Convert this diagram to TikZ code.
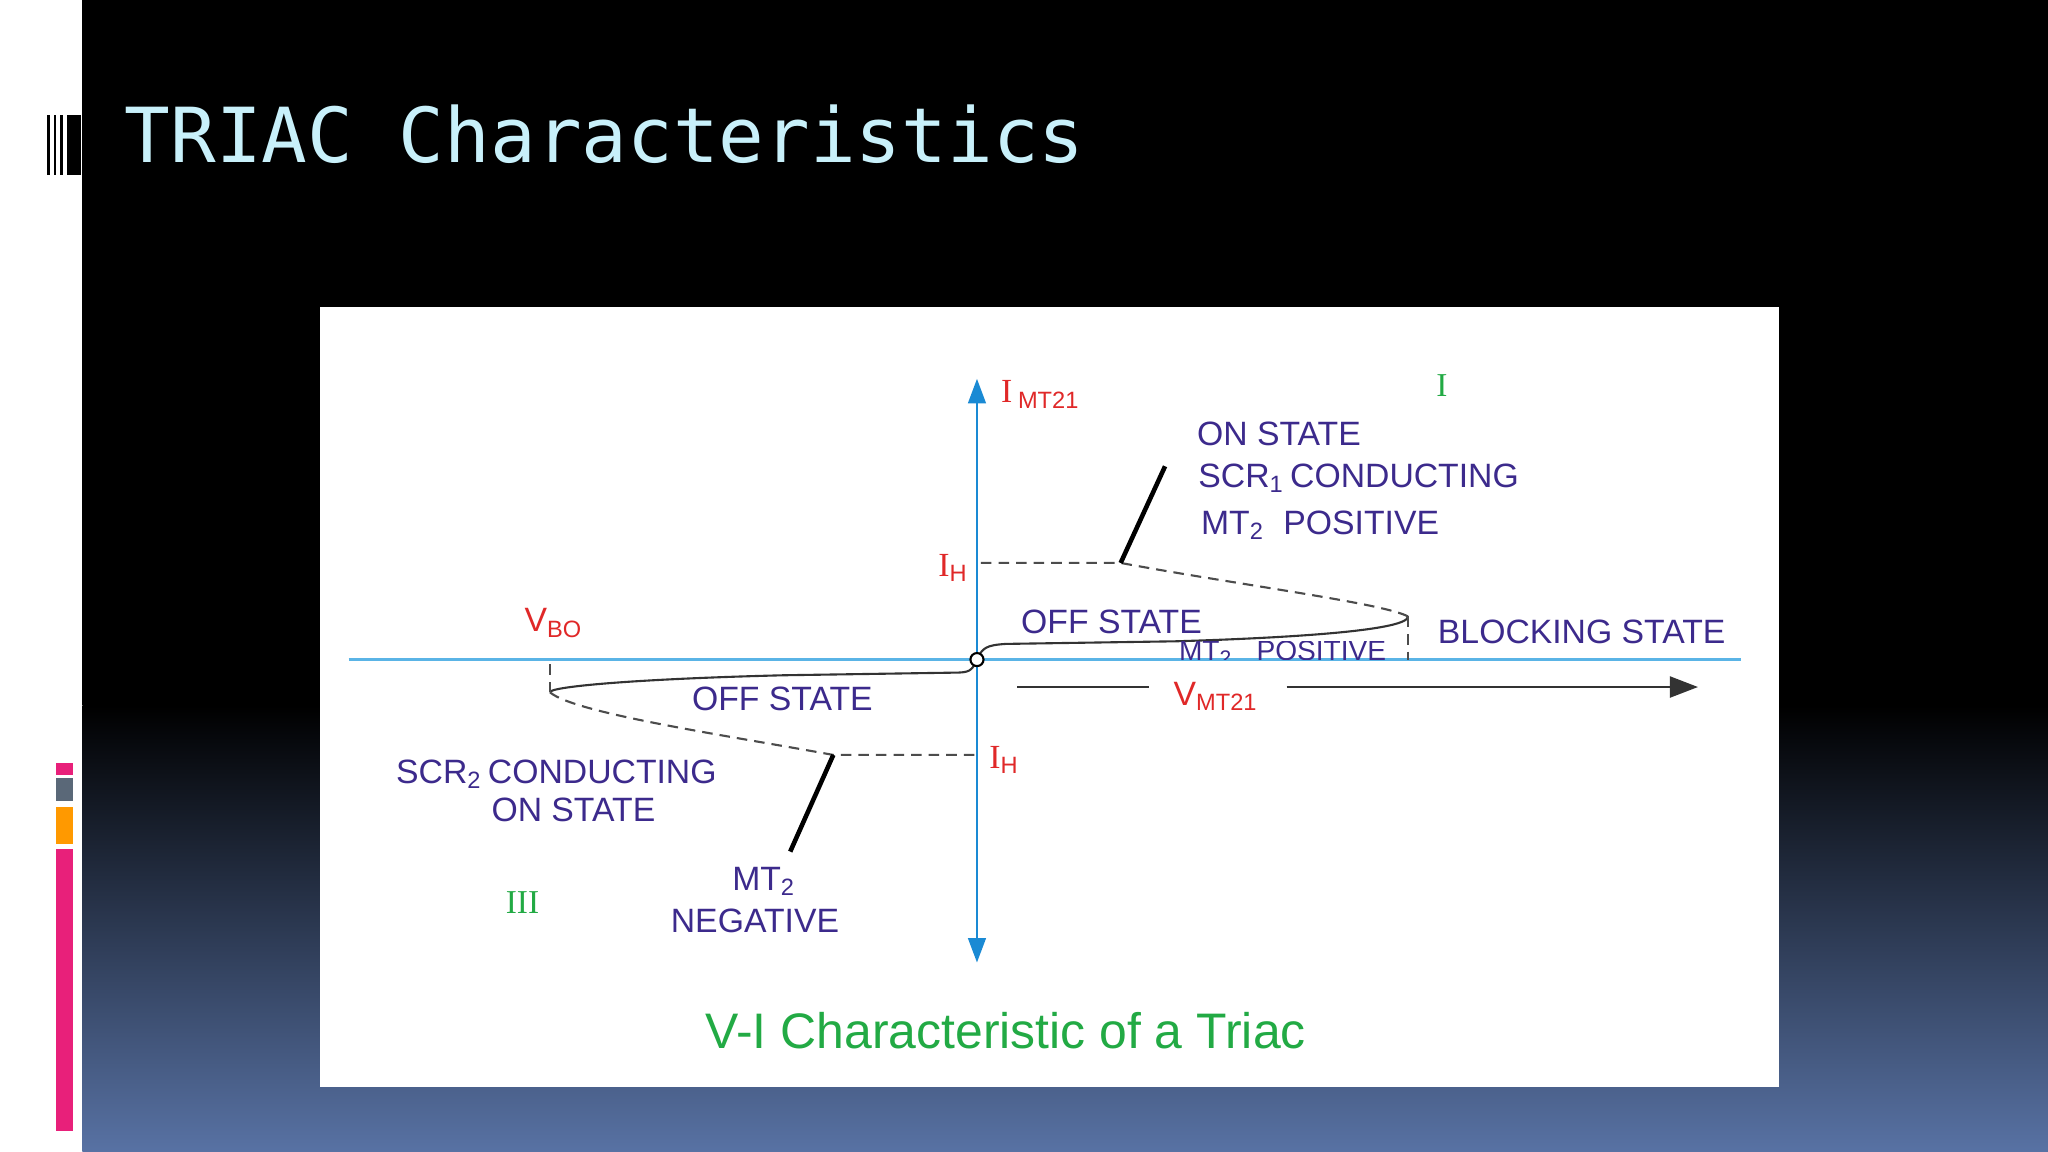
\documentclass[tikz,border=0pt]{standalone}
\usepackage{fontspec}
\setmainfont{Liberation Sans}
\newfontfamily\titlefont{DejaVu Sans Mono}
\newfontfamily\serfont{Liberation Serif}
\usetikzlibrary{arrows.meta}
\definecolor{purp}{HTML}{3C2A8C}
\definecolor{redt}{HTML}{E02828}
\definecolor{grn}{HTML}{22AA44}
\definecolor{axblue}{HTML}{5AB4E6}
\definecolor{arrblue}{HTML}{1A8AD4}
\definecolor{bgblue}{HTML}{5872A4}
\definecolor{pinkb}{HTML}{E8207A}
\definecolor{slate}{HTML}{5A6878}
\newcommand{\sbs}[1]{\textsubscript{#1}}
\begin{document}
\begin{tikzpicture}[x=0.013061cm,y=-0.013061cm,
  lbl/.style={text=purp,font=\fontsize{9.6}{10}\selectfont,inner sep=0pt},
  rlbl/.style={text=redt,font=\fontsize{9.6}{10}\selectfont,inner sep=0pt},
  glbl/.style={text=grn,font=\serfont\fontsize{9.5}{10}\selectfont,inner sep=0pt},
  curve/.style={draw=black!80,line width=0.6pt},
  dsh/.style={draw=black!70,line width=0.6pt,dash pattern=on 3pt off 2pt},
  leader/.style={draw=black,line width=1.3pt}]
\useasboundingbox (0,0) rectangle (1568,882);
\fill[white] (0,0) rectangle (63,882);
\fill[black] (63,0) rectangle (1568,540);
\shade[top color=black,bottom color=bgblue] (63,540) rectangle (1568,882);
% icon
\foreach \a/\b in {36/38,41/43,46/48,51/62}{\fill[black] (\a,88) rectangle (\b,134);}
% color bars
\fill[pinkb] (43,584) rectangle (56,593);
\fill[slate] (43,596) rectangle (56,613);
\fill[orange!80!yellow] (43,618) rectangle (56,646);
\fill[pinkb] (43,650) rectangle (56,866);
\node[anchor=west,text={rgb,255:red,200;green,240;blue,250},font=\titlefont\fontsize{21.6}{24}\selectfont,inner sep=0pt] (title) at (95,103) {TRIAC Characteristics};
% panel
\fill[white] (245,235) rectangle (1362,832);
% axes
\coordinate (hl) at (267,505); \coordinate (hr) at (1333,505);
\draw[axblue,line width=0.8pt] (hl) -- (hr);
\coordinate (vt) at (748,290); \coordinate (vb) at (748,737);
\draw[arrblue,line width=0.8pt,{Triangle[length=7pt,width=5pt]}-{Triangle[length=7pt,width=5pt]}] (vt) -- (vb);
% Q1 curve
\coordinate (o) at (748,505);
\coordinate (t1) at (1078,472);
\coordinate (h1) at (858,431);
\coordinate (ih1) at (748,431);
\draw[curve] (o) .. controls (752,496) and (755,494) .. (770,493) -- (900,491) .. controls (1000,488) and (1078,482) .. (t1);
\draw[dsh] (t1) .. controls (1060,462) and (950,448) .. (h1) -- (ih1);
\coordinate (t1b) at (1078,505);
\draw[dsh] (t1) -- (t1b);
\coordinate (l1) at (892,357);
\draw[leader] (h1) -- (l1);
% Q3 curve
\coordinate (t3) at (421,530);
\coordinate (h3) at (638,578);
\coordinate (ih3) at (748,578);
\draw[curve] (o) .. controls (744,514) and (742,515) .. (730,515) -- (600,517) .. controls (480,520) and (421,526) .. (t3);
\draw[dsh] (t3) .. controls (440,546) and (550,562) .. (h3) -- (ih3);
\coordinate (t3b) at (421,505);
\draw[dsh] (t3) -- (t3b);
\coordinate (l3) at (605,652);
\draw[leader] (h3) -- (l3);
\draw[fill=white,line width=0.6pt] (o) circle (5);
% V arrow
\coordinate (va) at (779,526); \coordinate (vb1) at (880,526);
\coordinate (vc) at (985,526); \coordinate (vd) at (1300,526);
\draw[black!80,line width=0.6pt] (va) -- (vb1);
\draw[black!80,line width=0.6pt,-{Triangle[length=8pt,width=6pt]}] (vc) -- (vd);
% labels
\node[rlbl,anchor=west] (imt) at (766,302) {{\serfont I}\,\sbs{MT21}};
\node[glbl] (q1) at (1104,295) {I};
\node[glbl] (q3) at (400,691) {III};
\node[lbl,anchor=west] (on1) at (916,332) {ON STATE};
\node[lbl,anchor=west] (scr1) at (917,366) {SCR\sbs{1}\,CONDUCTING};
\node[lbl,anchor=west] (mt2p) at (919,402) {MT\sbs{2}\; POSITIVE};
\node[rlbl] (ih1l) at (730,435) {{\serfont I}\sbs{H}};
\node[rlbl] (ih3l) at (769,582) {{\serfont I}\sbs{H}};
\node[rlbl] (vbo) at (424,477) {V\sbs{BO}};
\node[lbl] (off1) at (851,476) {OFF STATE};
\begin{scope}
\clip (880,491) rectangle (1080,505);
\node[lbl,font=\fontsize{8}{8}\selectfont,anchor=north] (mtp) at (982,490) {MT\sbs{2}\;\; POSITIVE};
\end{scope}
\node[lbl] (blk) at (1211,484) {BLOCKING STATE};
\node[rlbl] (vmt) at (931,533) {V\sbs{MT21}};
\node[lbl] (off3) at (599,535) {OFF STATE};
\node[lbl] (scr2) at (426,593) {SCR\sbs{2}\,CONDUCTING};
\node[lbl] (on3) at (439,620) {ON STATE};
\node[lbl] (mt2n) at (585,675) {MT\sbs{2}};
\node[lbl] (neg) at (578,705) {NEGATIVE};
\node[text=grn,font=\fontsize{14.2}{15}\selectfont,inner sep=0pt] (cap) at (770,789) {V-I Characteristic of a Triac};
\end{tikzpicture}
\end{document}
